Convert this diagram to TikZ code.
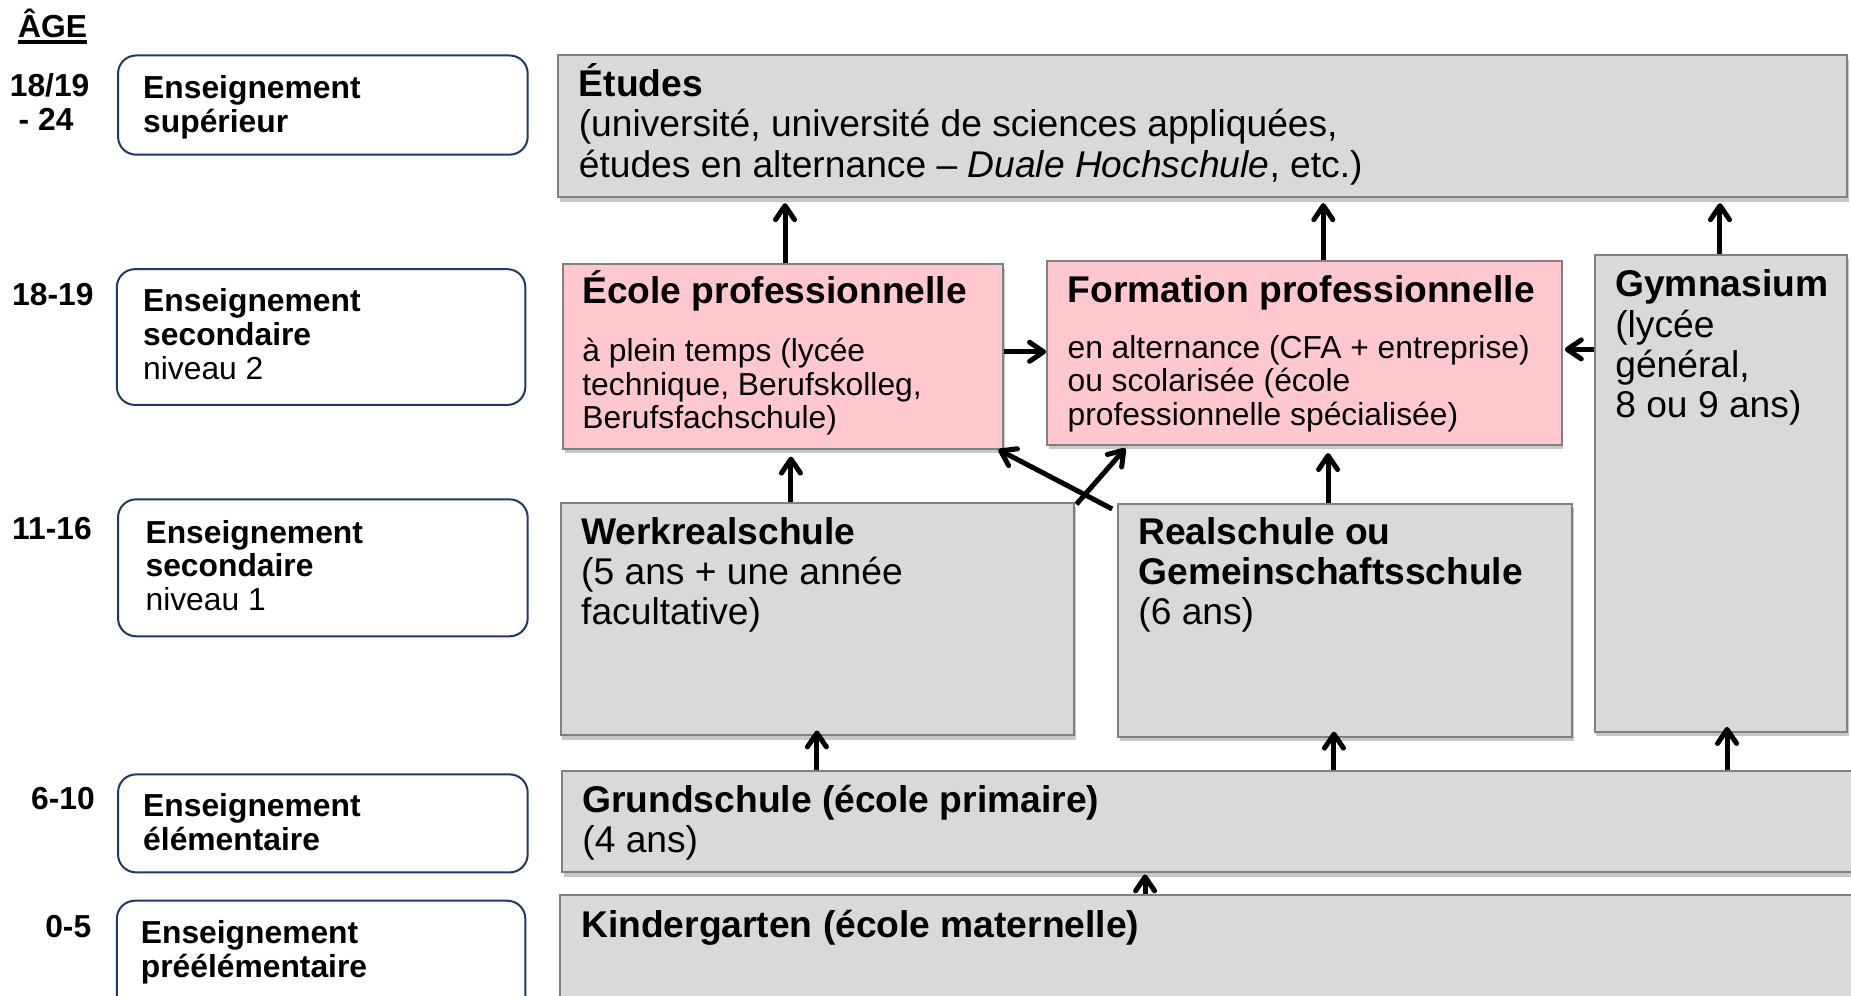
\documentclass[tikz,border=0pt]{standalone}
\usepackage{fontspec}
\setmainfont{Liberation Sans}
\usetikzlibrary{arrows.meta,fit,shadows}

\definecolor{boxgray}{HTML}{D9D9D9}
\definecolor{boxline}{HTML}{808080}
\definecolor{pinkbox}{HTML}{FFC7CE}
\definecolor{navyline}{HTML}{1F3864}

\newcommand\fbig{\fontsize{18.6pt}{20.07pt}\selectfont}
\newcommand\fsm{\fontsize{15.9pt}{16.6pt}\selectfont}
\newcommand\fleft{\fontsize{15.9pt}{16.94pt}\selectfont}
\newcommand\mylines[1]{\begin{tabular}[t]{@{}l@{}}#1\end{tabular}}

\begin{document}
\begin{tikzpicture}[x=0.59024pt,y=-0.59024pt,
  shadowed/.style={drop shadow={shadow xshift=0.8pt,shadow yshift=-2.2pt,fill=black,opacity=0.22}},
  graybox/.style={draw=boxline,line width=1pt,fill=boxgray,inner sep=0pt,shadowed},
  pinkbx/.style={draw=boxline,line width=1pt,fill=pinkbox,inner sep=0pt,shadowed},
  levelbox/.style={draw=navyline,line width=1pt,fill=white,rounded corners=9pt,inner sep=0pt},
  txt/.style={anchor=base west,inner sep=0pt},
  arr/.style={line width=2.5pt,-{Straight Barb[length=7pt,width=9.5pt,round]}}
]
\useasboundingbox (0,0) rectangle (1568,843.7);
\fill[white] (0,0) rectangle (1568,843.7);

% age column
\node[txt] (tage) at (15,31.6) {\fsm\bfseries\sbox0{ÂGE}\usebox0\llap{\rule[-3.4pt]{\wd0}{2pt}}};
\node[txt] (a1) at (8,82) {\fsm\bfseries\mylines{18/19\\\ - 24}};
\node[txt] (a2) at (10,259) {\fsm\bfseries 18-19};
\node[txt] (a3) at (10,457) {\fsm\bfseries 11-16};
\node[txt] (a4) at (26,686) {\fsm\bfseries 6-10};
\node[txt] (a5) at (38,794) {\fsm\bfseries 0-5};

% level boxes
\node[levelbox,fit={(100,47) (447,131)}] (l1) {};
\node[levelbox,fit={(99,228) (445,343)}] (l2) {};
\node[levelbox,fit={(100,423) (447,539)}] (l3) {};
\node[levelbox,fit={(100,656) (447,739)}] (l4) {};
\node[levelbox,fit={(99,763) (445,880)}] (l5) {};

\node[txt] (lt1) at (121,83.3) {\fleft\mylines{\textbf{Enseignement}\\\textbf{supérieur}}};
\node[txt] (lt2) at (121,264) {\fleft\mylines{\textbf{Enseignement}\\\textbf{secondaire}\\niveau 2}};
\node[txt] (lt3) at (123,460) {\fleft\mylines{\textbf{Enseignement}\\\textbf{secondaire}\\niveau 1}};
\node[txt] (lt4) at (121,692) {\fleft\mylines{\textbf{Enseignement}\\\textbf{élémentaire}}};
\node[txt] (lt5) at (119,799) {\fleft\mylines{\textbf{Enseignement}\\\textbf{préélémentaire}}};

% school boxes
\node[graybox,fit={(473,47) (1565,167)}] (etudes) {};
\node[pinkbx,fit={(477,224) (850,380)}] (ecole) {};
\node[pinkbx,fit={(887,221) (1323,377)}] (form) {};
\node[graybox,fit={(1351,216) (1565,620)}] (gym) {};
\node[graybox,fit={(475,426) (910,623)}] (werk) {};
\node[graybox,fit={(947,427) (1332,624)}] (reals) {};
\node[graybox,fit={(476,653) (1590,739)}] (grund) {};
\node[graybox,fit={(474,758) (1590,880)}] (kinder) {};

\node[txt] (te) at (490,82) {\fbig\mylines{\textbf{Études}\\(université, université de sciences appliquées,\\études en alternance – \textit{Duale Hochschule}, etc.)}};
\node[txt] (tec1) at (493,257) {\fbig\bfseries École professionnelle};
\node[txt] (tec2) at (493,306.5) {\fsm\mylines{à plein temps (lycée\\technique, Berufskolleg,\\Berufsfachschule)}};
\node[txt] (tf1) at (904,256) {\fbig\bfseries Formation professionnelle};
\node[txt] (tf2) at (904,303.5) {\fsm\mylines{en alternance (CFA + entreprise)\\ou scolarisée (école\\professionnelle spécialisée)}};
\node[txt] (tg) at (1368,251.5) {\fbig\mylines{\textbf{Gymnasium}\\(lycée\\général,\\8 ou 9 ans)}};
\node[txt] (tw) at (492,461) {\fbig\mylines{\textbf{Werkrealschule}\\(5 ans + une année\\facultative)}};
\node[txt] (tr) at (964,461) {\fbig\mylines{\textbf{Realschule ou}\\\textbf{Gemeinschaftsschule}\\(6 ans)}};
\node[txt] (tgr) at (493,688) {\fbig\mylines{\textbf{Grundschule (école primaire)}\\(4 ans)}};
\node[txt] (tk) at (492,794) {\fbig\bfseries Kindergarten (école maternelle)};

% connector positions
\coordinate (xA) at (665,0);
\coordinate (xB) at (1121,0);
\coordinate (xC) at (1457,0);
\coordinate (xD) at (670,0);
\coordinate (xE) at (1125,0);
\coordinate (xF) at (692,0);
\coordinate (xG) at (1130,0);
\coordinate (xH) at (1463,0);
\coordinate (xI) at (970,0);
\coordinate (xJ) at (955,0);
\coordinate (yA) at (0,298);
\coordinate (yB) at (0,296);

\draw[arr,shorten >=2.5pt] (ecole.north -| xA) -- (etudes.south -| xA);
\draw[arr,shorten >=2.5pt] (form.north -| xB) -- (etudes.south -| xB);
\draw[arr,shorten >=2.5pt] (gym.north -| xC) -- (etudes.south -| xC);
\draw[arr] (ecole.east |- yA) -- (form.west |- yA);
\draw[arr,shorten >=1pt] (gym.west |- yB) -- (form.east |- yB);
\draw[arr,shorten >=3.5pt] (werk.north -| xD) -- (ecole.south -| xD);
\draw[arr,shorten >=3.5pt] (reals.north -| xE) -- (form.south -| xE);
\draw[arr] ([shift={(-4,5)}]reals.north west) -- ([xshift=-3pt]ecole.south east);
\draw[arr,shorten >=1.5pt] ([shift={(1,2)}]werk.north east) -- (form.south -| xJ);
\draw[arr,shorten >=-3pt] (grund.north -| xF) -- (werk.south -| xF);
\draw[arr,shorten >=-3pt] (grund.north -| xG) -- (reals.south -| xG);
\draw[arr,shorten >=-3pt] (grund.north -| xH) -- (gym.south -| xH);
\draw[arr,shorten >=0.5pt] (kinder.north -| xI) -- (grund.south -| xI);
\end{tikzpicture}
\end{document}
